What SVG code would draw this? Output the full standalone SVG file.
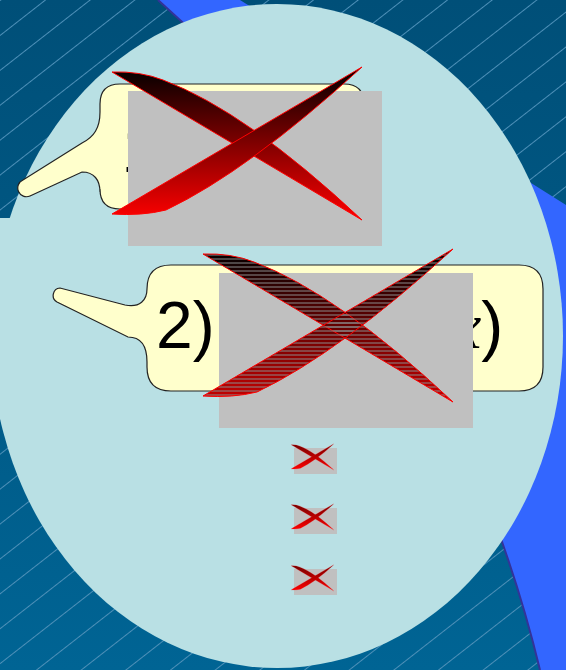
<svg xmlns="http://www.w3.org/2000/svg" width="566" height="670" viewBox="0 0 566 670">
  <style>
    .callout { fill: #FFFFCC; stroke: #222222; stroke-width: 1.2; }
    .gray { fill: #C0C0C0; }
    .big { font-family: "Liberation Sans", Arial, sans-serif; font-size: 66px; fill: #000000; }
    .bladeStroke { stroke: #FF0000; stroke-width: 1; }
    .smallStroke { stroke: #FF0000; stroke-width: 1.2; vector-effect: non-scaling-stroke; }
  </style>
  <defs>
    <linearGradient id="bg" x1="0" y1="0" x2="0" y2="670" gradientUnits="userSpaceOnUse">
      <stop offset="0" stop-color="#004F78"/>
      <stop offset="1" stop-color="#006494"/>
    </linearGradient>
    <pattern id="hatch" width="40" height="27.5" patternUnits="userSpaceOnUse" patternTransform="rotate(-38)">
      <line x1="0" y1="0.5" x2="40" y2="0.5" stroke="#4E90B8" stroke-width="1"/>
    </pattern>
    <linearGradient id="g1" x1="0" y1="-24" x2="0" y2="129" gradientUnits="userSpaceOnUse">
      <stop offset="0" stop-color="#000000"/>
      <stop offset="1" stop-color="#FF0000"/>
    </linearGradient>
    <linearGradient id="g2" x1="0" y1="-24" x2="0" y2="129" gradientUnits="userSpaceOnUse">
      <stop offset="0" stop-color="#000000"/>
      <stop offset="1" stop-color="#C80000"/>
    </linearGradient>
    <linearGradient id="g3" x1="0" y1="-24" x2="0" y2="129" gradientUnits="userSpaceOnUse">
      <stop offset="0" stop-color="#700000"/>
      <stop offset="1" stop-color="#FF0000"/>
    </linearGradient>
    <pattern id="stripes" width="8" height="4" patternUnits="userSpaceOnUse">
      <rect x="0" y="1.5" width="8" height="1" fill="#8A8A8A"/>
    </pattern>
    <path id="bladeA" d="M-16,-19 Q12,-20 35,-11 Q118,20 234,129 L-16,-19 Z"/>
    <path id="bladeB" d="M-16,123 Q14,125 38,119 Q120,80 234,-24 L-16,123 Z"/>
  </defs>

  <g id="background">
    <rect x="0" y="0" width="566" height="670" fill="url(#bg)"/>
    <rect x="0" y="0" width="566" height="670" fill="url(#hatch)"/>
    <path d="M240,0 L566,205 L566,670 L540,670 C480,420 330,150 158,0 Z" fill="#3366FF"/>
    <path d="M540,670 C480,420 330,150 158,0" fill="none" stroke="#333399" stroke-width="2"/>
    <ellipse cx="277" cy="336" rx="286" ry="332" fill="#B9E0E4"/>
    <rect x="0" y="218" width="14" height="60" fill="#B9E0E4"/>
  </g>

  <g id="callout1">
    <path class="callout" d="M120,84 H344 Q364,84 364,104 V189 Q364,209 344,209 H120 Q100,209 100,189 V192 C100,180 94,172 82,172 L30,196 A8,8 0 0 1 23,180 L82,143 C94,137 100,128 100,112 V104 Q100,84 120,84 Z"/>
    <text class="big" x="121.6" y="172">1)</text>
  </g>
  <g id="picture1">
    <rect class="gray" x="128" y="91" width="254" height="155"/>
    <g transform="translate(128,91)">
      <use href="#bladeA" fill="url(#g1)" class="bladeStroke"/>
      <use href="#bladeB" fill="url(#g1)" class="bladeStroke"/>
    </g>
  </g>

  <g id="callout2">
    <path class="callout" d="M171,265 H519 Q543,265 543,289 V367 Q543,391 519,391 H171 Q147,391 147,367 V362 C147,345 140,337 128,337 L57,302 A7.5,7.5 0 0 1 60,288 L125,305 C140,308 147,300 147,289 Q147,265 171,265 Z"/>
    <text class="big" x="156" y="348">2)</text>
    <text class="big" x="452" y="348"><tspan font-family="'Liberation Serif', 'Times New Roman', serif" font-style="italic">x</tspan>)</text>
  </g>
  <g id="picture2">
    <rect class="gray" x="219" y="273" width="254" height="155"/>
    <g transform="translate(219,273)">
      <use href="#bladeA" fill="url(#g2)"/>
      <use href="#bladeB" fill="url(#g2)"/>
      <use href="#bladeA" fill="url(#stripes)" class="bladeStroke"/>
      <use href="#bladeB" fill="url(#stripes)" class="bladeStroke"/>
    </g>
  </g>

  <g id="small1">
    <rect class="gray" x="294" y="448" width="43" height="26"/>
    <g transform="translate(294,448) scale(0.1693)">
      <use href="#bladeA" fill="url(#g3)" class="smallStroke"/>
      <use href="#bladeB" fill="url(#g3)" class="smallStroke"/>
    </g>
  </g>
  <g id="small2">
    <rect class="gray" x="294" y="508" width="43" height="26"/>
    <g transform="translate(294,508) scale(0.1693)">
      <use href="#bladeA" fill="url(#g3)" class="smallStroke"/>
      <use href="#bladeB" fill="url(#g3)" class="smallStroke"/>
    </g>
  </g>
  <g id="small3">
    <rect class="gray" x="294" y="569" width="43" height="26"/>
    <g transform="translate(294,569) scale(0.1693)">
      <use href="#bladeA" fill="url(#g3)" class="smallStroke"/>
      <use href="#bladeB" fill="url(#g3)" class="smallStroke"/>
    </g>
  </g>
</svg>
